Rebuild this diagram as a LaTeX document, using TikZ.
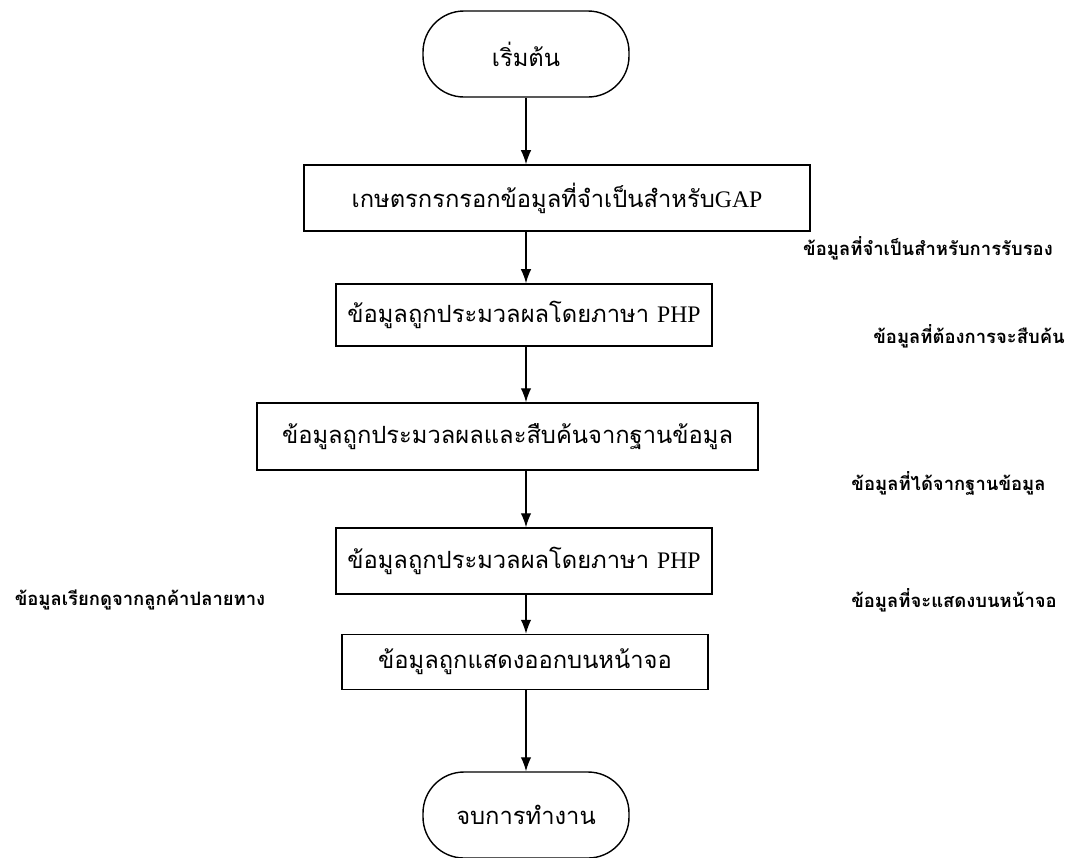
\documentclass[tikz,border=0pt]{standalone}
\usepackage{fontspec}
\setmainfont{Liberation Serif}
\newfontfamily\thaifont[Script=Thai]{Loma}
\newcommand{\lat}[1]{{\rmfamily #1}}
\usetikzlibrary{positioning,arrows.meta}

\tikzset{
  flowbox/.style={draw,line width=0.8pt,inner sep=0pt,font=\thaifont\fontsize{13.5}{16}\selectfont},
  termbox/.style={flowbox,rounded corners=0.82cm,minimum width=4.12cm,minimum height=1.72cm},
  sidelabel/.style={font=\thaifont\bfseries\fontsize{10.5}{12}\selectfont,inner sep=0pt},
  flowline/.style={line width=0.8pt,-{Latex[length=8pt,width=6pt]}}
}

\begin{document}
\begin{tikzpicture}
  \useasboundingbox (0,0) rectangle (21.46,-17.14);

  % terminals and steps
  \node[termbox] (start) at (10.52,-1.08) {เริ่มต้น};
  \node[flowbox,minimum width=10.12cm,minimum height=1.32cm] (enter) at (11.14,-3.96) {เกษตรกรกรอกข้อมูลที่จำเป็นสำหรับ\lat{GAP}};
  \node[flowbox,minimum width=7.52cm,minimum height=1.24cm] (php1) at (10.48,-6.30) {ข้อมูลถูกประมวลผลโดยภาษา \lat{PHP}};
  \node[flowbox,minimum width=10.02cm,minimum height=1.34cm] (search) at (10.15,-8.73) {ข้อมูลถูกประมวลผลและสืบค้นจากฐานข้อมูล};
  \node[flowbox,minimum width=7.52cm,minimum height=1.32cm] (php2) at (10.48,-11.22) {ข้อมูลถูกประมวลผลโดยภาษา \lat{PHP}};
  \node[flowbox,minimum width=7.32cm,minimum height=1.10cm] (show) at (10.50,-13.24) {ข้อมูลถูกแสดงออกบนหน้าจอ};
  \node[termbox] (stop) at (10.52,-16.30) {จบการทำงาน};

  % side notes
  \node[sidelabel] (need) at (18.56,-4.96) {ข้อมูลที่จำเป็นสำหรับการรับรอง};
  \node[sidelabel] (query) at (19.38,-6.72) {ข้อมูลที่ต้องการจะสืบค้น};
  \node[sidelabel] (fromdb) at (18.97,-9.66) {ข้อมูลที่ได้จากฐานข้อมูล};
  \node[sidelabel] (display) at (19.08,-12.00) {ข้อมูลที่จะแสดงบนหน้าจอ};
  \node[sidelabel] (client) at (2.80,-12.00) {ข้อมูลเรียกดูจากลูกค้าปลายทาง};

  % connectors
  \draw[flowline] (start.south) -- (start.south |- enter.north);
  \draw[flowline] (start.south |- enter.south) -- (start.south |- php1.north);
  \draw[flowline] (start.south |- php1.south) -- (start.south |- search.north);
  \draw[flowline] (start.south |- search.south) -- (start.south |- php2.north);
  \draw[flowline] (start.south |- php2.south) -- (start.south |- show.north);
  \draw[flowline] (start.south |- show.south) -- (stop.north);
\end{tikzpicture}
\end{document}
